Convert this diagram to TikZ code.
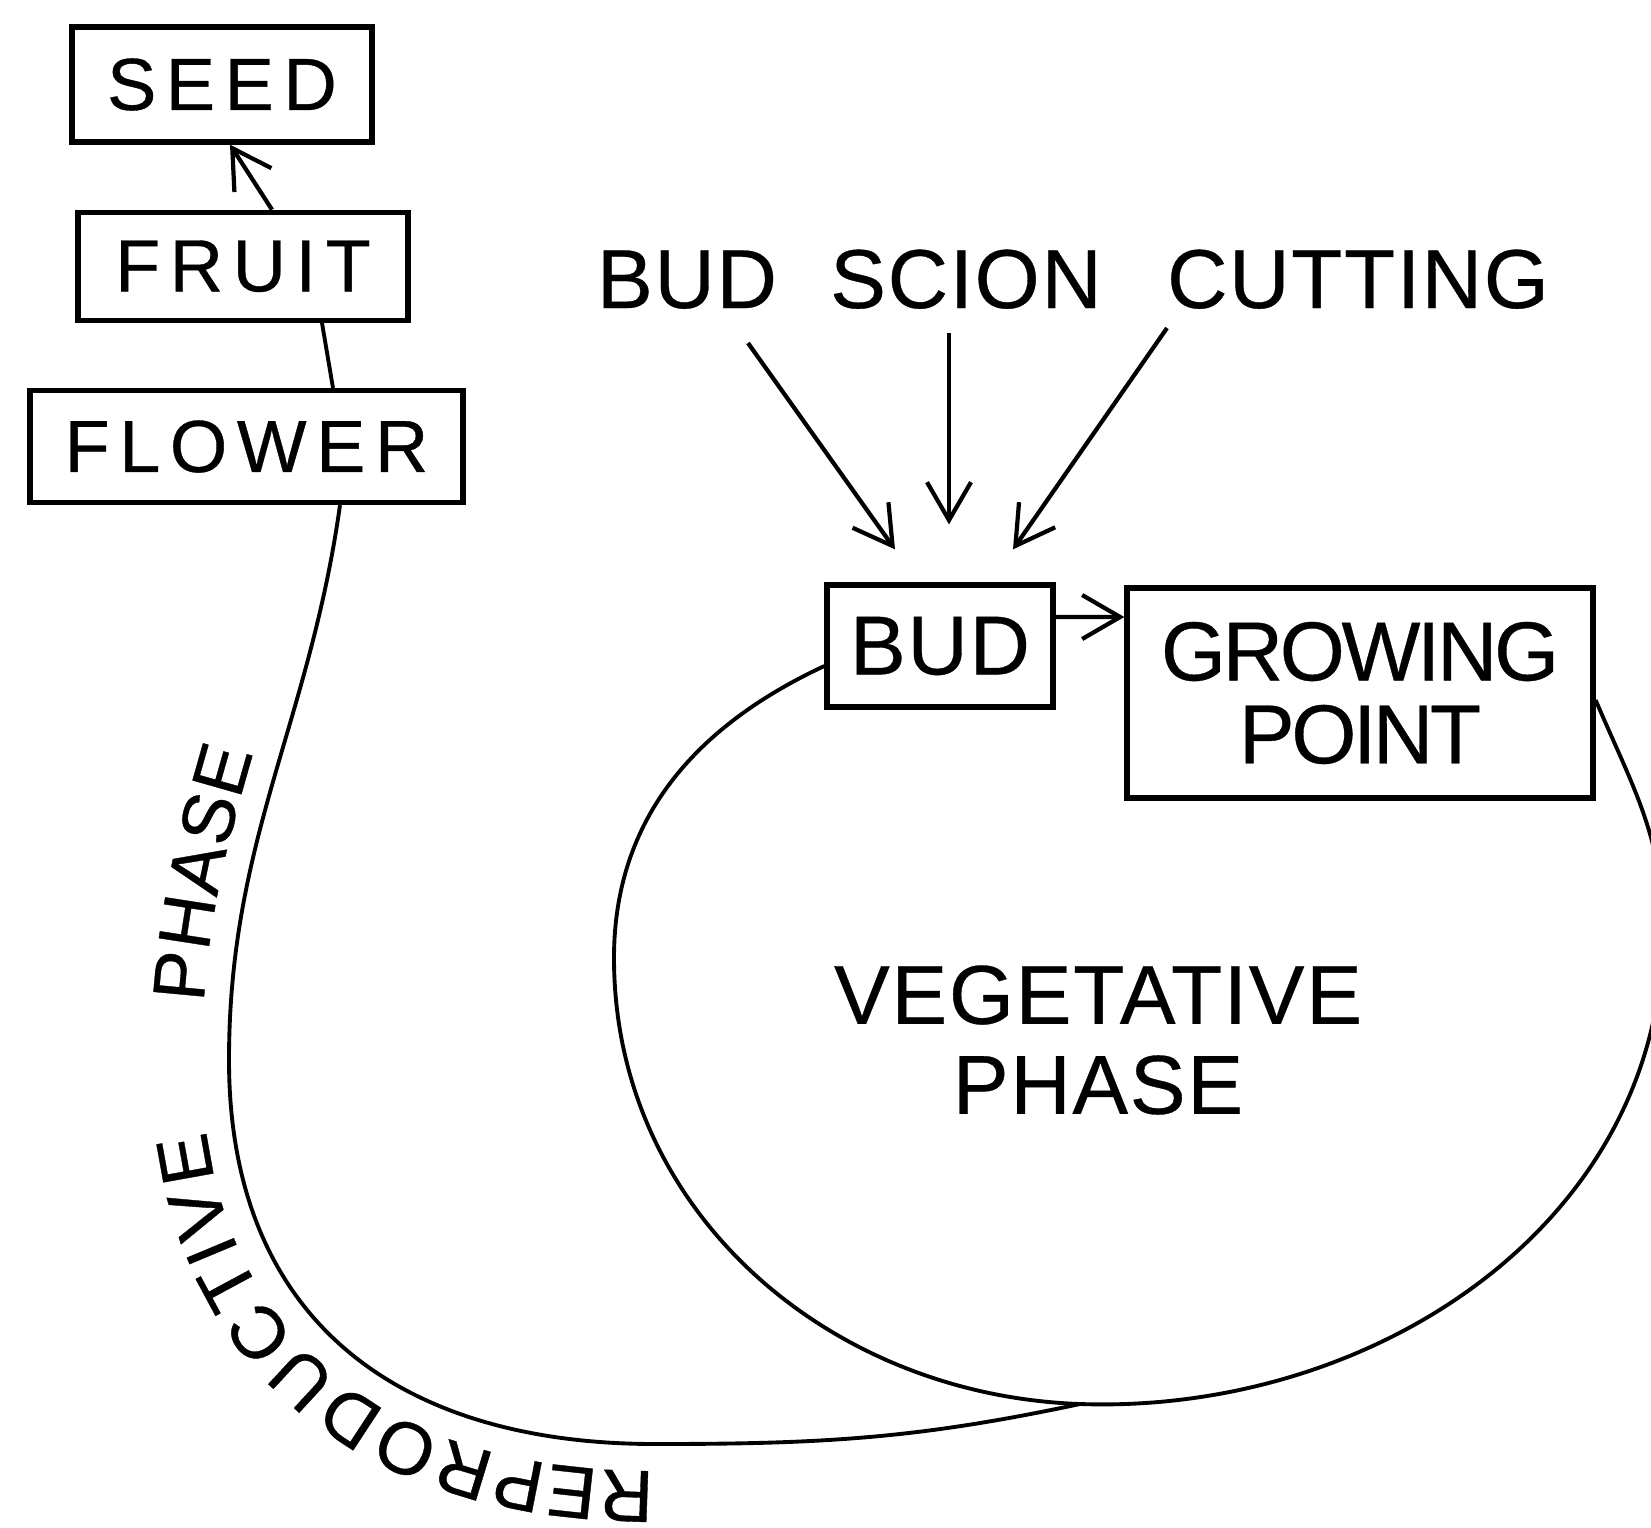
\documentclass[tikz,border=0pt]{standalone}
\usepackage{fontspec}
\setmainfont[FakeBold=0.4, AutoFakeBold=0.4]{Liberation Sans}
\newfontfamily\boxfont[LetterSpace=13, FakeBold=0.5]{Liberation Sans}
\newfontfamily\bigfont[LetterSpace=2, FakeBold=0.4]{Liberation Sans}
\newfontfamily\growfont[LetterSpace=-4, FakeBold=0.4]{Liberation Sans}
\newfontfamily\curvefont[LetterSpace=4, FakeBold=0.5]{Liberation Sans}
\usetikzlibrary{positioning, arrows.meta, decorations.text}

\begin{document}
\begin{tikzpicture}[
    x=0.1mm, y=0.1mm,
    node distance=6.5mm,
    box/.style={
        rectangle,
        draw,
        line width=1.5pt,
        inner sep=0pt,
        align=center,
        font=\boxfont\fontsize{21}{25}\selectfont
    },
    bigbox/.style={
        box,
        font=\bigfont\fontsize{23.8}{23.6}\selectfont
    },
    word/.style={
        inner sep=0pt,
        anchor=base,
        font=\bigfont\fontsize{23.8}{28}\selectfont
    },
    arrow/.style={
        -{Straight Barb[length=3.8mm, width=4.4mm]},
        line width=1.2pt
    },
    phase/.style={
        line width=1.1pt
    }
]

\path[use as bounding box] (0,0) rectangle (1651,-1527);
\clip (0,0) rectangle (1651,-1527);

% ------------------------------------------------------------------
% REPRODUCTIVE SIDE
% ------------------------------------------------------------------

\node[box, minimum width=30mm, minimum height=11.5mm] (seed) at (222,-84.5) {SEED};

\node[box, minimum width=33mm, minimum height=10.8mm,
      below=6.5mm of seed, xshift=2.1mm] (fruit) {FRUIT};

\node[box, minimum width=43.3mm, minimum height=11.2mm,
      below=6.5mm of fruit, xshift=0.35mm] (flower) {FLOWER};

% ------------------------------------------------------------------
% VEGETATIVE SIDE
% ------------------------------------------------------------------

\node[word] (wbud) at (687,-308) {BUD};
\node[word] (wscion) at (966,-308) {SCION};
\node[word] (wcut) at (1358,-308) {CUTTING};

\node[bigbox, minimum width=22.6mm, minimum height=12.2mm] (bud) at (940,-646) {BUD};

\node[bigbox, font=\growfont\fontsize{23.8}{23.6}\selectfont,
      minimum width=46.6mm, minimum height=21mm] (grow) at (1360,-693)
{GROWING\\POINT};

\node[align=center, font=\bigfont\fontsize{23.8}{25.6}\selectfont] (veg) at (1098,-1040)
{VEGETATIVE\\PHASE};

% points on the cycle
\coordinate (lleft) at (614,-958);
\coordinate (jn) at (1080,-1404);
\coordinate (lright) at (1663,-930);
\coordinate (rbot) at (655,-1444);
\coordinate (rleft) at (229,-1060);

% ------------------------------------------------------------------
% CONNECTIONS
% ------------------------------------------------------------------

\draw[arrow] ([xshift=2.9mm]fruit.north) -- ([xshift=0.8mm]seed.south);
\draw[phase] ([xshift=8.65mm]flower.north) -- ([xshift=7.9mm]fruit.south);

\draw[arrow] ([shift={(61,-35)}]wbud.base) -- ([shift={(-45,33)}]bud.north);
\draw[arrow] ([shift={(-17,-25)}]wscion.base) -- ([shift={(9,58)}]bud.north);
\draw[arrow] ([shift={(-191,-20)}]wcut.base) -- ([shift={(73,33)}]bud.north);

\draw[arrow] ([yshift=2.9mm]bud.east) -- ([yshift=7.6mm]grow.west);

\draw[phase] ([yshift=-2mm]bud.west) to[out=205,in=90] (lleft)
    to[out=270,in=178] (jn)
    to[out=-2,in=270] (lright)
    to[out=90,in=-67] ([yshift=-0.7mm]grow.east);

\draw[phase] (jn) to[out=192,in=0] (rbot)
    to[out=180,in=270,looseness=1.15] (rleft)
    to[out=90,in=262] ([xshift=9.35mm]flower.south);

% ------------------------------------------------------------------
% CURVED LABEL
% ------------------------------------------------------------------

\path[decorate, decoration={text along path, raise=2.7mm,
      text={|\curvefont\fontsize{21}{25}\selectfont|REPRODUCTIVE}}]
    (rbot) to[out=180,in=270,looseness=1.15] (rleft);

\path[decorate, decoration={text along path, raise=2.7mm,
      text align={left indent=5.5mm},
      text={|\curvefont\fontsize{21}{25}\selectfont|PHASE}}]
    (rleft) to[out=90,in=262] ([xshift=9.35mm]flower.south);

\end{tikzpicture}
\end{document}
